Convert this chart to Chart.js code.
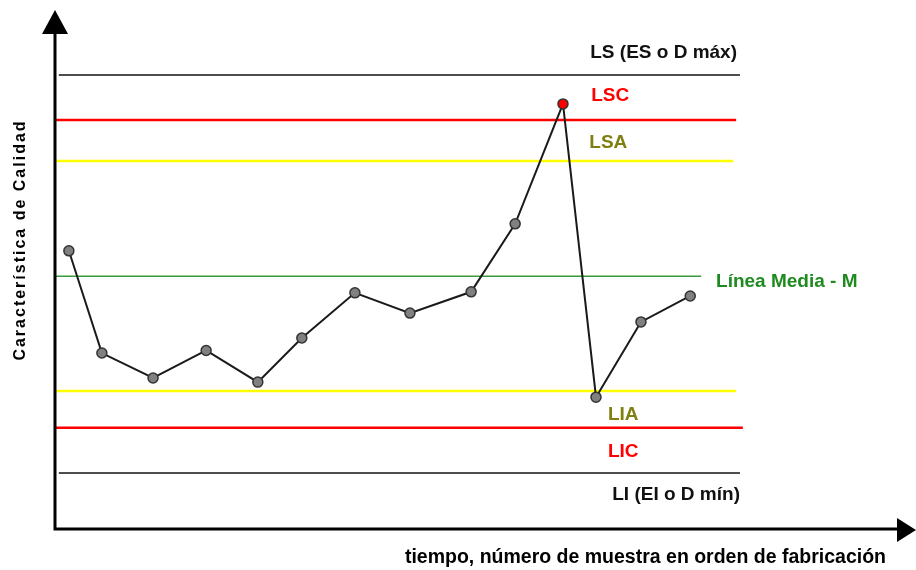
<!DOCTYPE html>
<html>
<head>
<meta charset="utf-8">
<script src="https://cdn.jsdelivr.net/npm/chart.js@4"></script>
<style>
  body { margin: 0; background: #fff; }
  #wrap { width: 916px; height: 570px; }
</style>
</head>
<body>
<div id="wrap"><canvas id="chart" width="916" height="570"></canvas></div>
<script>
// muestras (posición en el tiempo y valor de la característica)
const muestraX = [0.29, 0.98, 2.05, 3.16, 4.24, 5.16, 6.27, 7.42, 8.70, 9.62, 10.62, 11.31, 12.25, 13.28];
const muestraY = [53.6, 33.9, 29.1, 34.4, 28.3, 36.8, 45.5, 41.6, 45.7, 58.8, 81.9, 25.4, 39.9, 44.9];
const fueraDeControl = 10; // índice de la muestra por encima del LSC

// líneas límite
const limiteNombre = ['LS', 'LSC', 'LSA', 'M', 'LIA', 'LIC', 'LI'];
const limiteValor  = [87.5, 78.8, 70.9, 48.7, 26.6, 19.5, 10.8];
const limiteDesde  = [0.08, 0, 0, 0, 0, 0, 0.08];
const limiteHasta  = [14.32, 14.24, 14.18, 13.51, 14.24, 14.38, 14.32];

// etiquetas de las líneas
const etiquetaTexto = ['LS (ES o D máx)', 'LSC', 'LSA', 'Línea Media - M', 'LIA', 'LIC', 'LI (EI o D mín)'];
const etiquetaX = [11.19, 11.21, 11.17, 13.82, 11.56, 11.56, 11.65];
const etiquetaY = [90.8, 82.5, 73.4, 46.6, 21.0, 13.9, 5.6];

const tituloX = 'tiempo, número de muestra en orden de fabricación';
const tituloY = 'Característica de Calidad';

const limiteEstilo = {
    LS:  { color: '#4d4d4d', width: 2 },
    LSC: { color: '#ff0000', width: 2.5 },
    LSA: { color: '#ffff00', width: 2.5 },
    M:   { color: '#3a9a3a', width: 1.5 },
    LIA: { color: '#ffff00', width: 2.5 },
    LIC: { color: '#ff0000', width: 2.5 },
    LI:  { color: '#4d4d4d', width: 2 },
};
const etiquetaColor = ['#111111', '#ff0000', '#7f7f12', '#1f8a1f', '#7f7f12', '#ff0000', '#111111'];

const fuente = '"Liberation Sans", Arial, sans-serif';

// datasets de las líneas horizontales
const lineasLimite = limiteNombre.map((nombre, i) => ({
    label: nombre,
    data: [{ x: limiteDesde[i], y: limiteValor[i] }, { x: limiteHasta[i], y: limiteValor[i] }],
    borderColor: limiteEstilo[nombre].color,
    borderWidth: limiteEstilo[nombre].width,
    pointRadius: 0,
    order: 2,
}));

// ejes con flechas y textos
const ejesYTextos = {
    id: 'ejesYTextos',
    afterDraw(chart) {
        const { ctx, chartArea: a, scales } = chart;
        ctx.save();
        ctx.strokeStyle = '#000';
        ctx.fillStyle = '#000';
        ctx.lineWidth = 3;
        ctx.beginPath();
        ctx.moveTo(a.left, a.top + 20);
        ctx.lineTo(a.left, a.bottom);
        ctx.lineTo(a.right - 16, a.bottom);
        ctx.stroke();
        // flecha eje Y
        ctx.beginPath();
        ctx.moveTo(a.left, a.top);
        ctx.lineTo(a.left - 13, a.top + 24);
        ctx.lineTo(a.left + 13, a.top + 24);
        ctx.closePath();
        ctx.fill();
        // flecha eje X
        ctx.beginPath();
        ctx.moveTo(a.right, a.bottom + 1);
        ctx.lineTo(a.right - 19, a.bottom - 11);
        ctx.lineTo(a.right - 19, a.bottom + 13);
        ctx.closePath();
        ctx.fill();

        // etiquetas de las líneas
        ctx.font = 'bold 19px ' + fuente;
        ctx.textBaseline = 'alphabetic';
        ctx.textAlign = 'left';
        etiquetaTexto.forEach((t, i) => {
            ctx.fillStyle = etiquetaColor[i];
            ctx.fillText(t, scales.x.getPixelForValue(etiquetaX[i]), scales.y.getPixelForValue(etiquetaY[i]));
        });

        // títulos
        ctx.fillStyle = '#000';
        ctx.textAlign = 'right';
        ctx.font = 'bold 19.5px ' + fuente;
        ctx.fillText(tituloX, a.right - 30, a.bottom + 34);

        ctx.translate(21, 240);
        ctx.rotate(-Math.PI / 2);
        ctx.textAlign = 'center';
        ctx.textBaseline = 'middle';
        ctx.font = 'bold 16px ' + fuente;
        ctx.letterSpacing = '2px';
        ctx.fillText(tituloY, 0, 0);
        ctx.restore();
    }
};

new Chart(document.getElementById('chart').getContext('2d'), {
    type: 'line',
    data: {
        datasets: [
            {
                label: 'Muestras',
                data: muestraX.map((x, i) => ({ x, y: muestraY[i] })),
                borderColor: '#1a1a1a',
                borderWidth: 2,
                pointRadius: 5,
                pointBorderWidth: 1.5,
                pointBorderColor: '#333',
                pointBackgroundColor: muestraY.map((v, i) => i === fueraDeControl ? '#ff0000' : '#808080'),
                order: 1,
            },
            ...lineasLimite,
        ],
    },
    options: {
        responsive: false,
        animation: false,
        layout: { autoPadding: false, padding: { left: 55, top: 10, right: 0, bottom: 41 } },
        plugins: { legend: { display: false }, tooltip: { enabled: false } },
        scales: {
            x: { type: 'linear', min: 0, max: 18, display: false },
            y: { min: 0, max: 100, display: false },
        },
    },
    plugins: [ejesYTextos],
});
</script>
</body>
</html>
